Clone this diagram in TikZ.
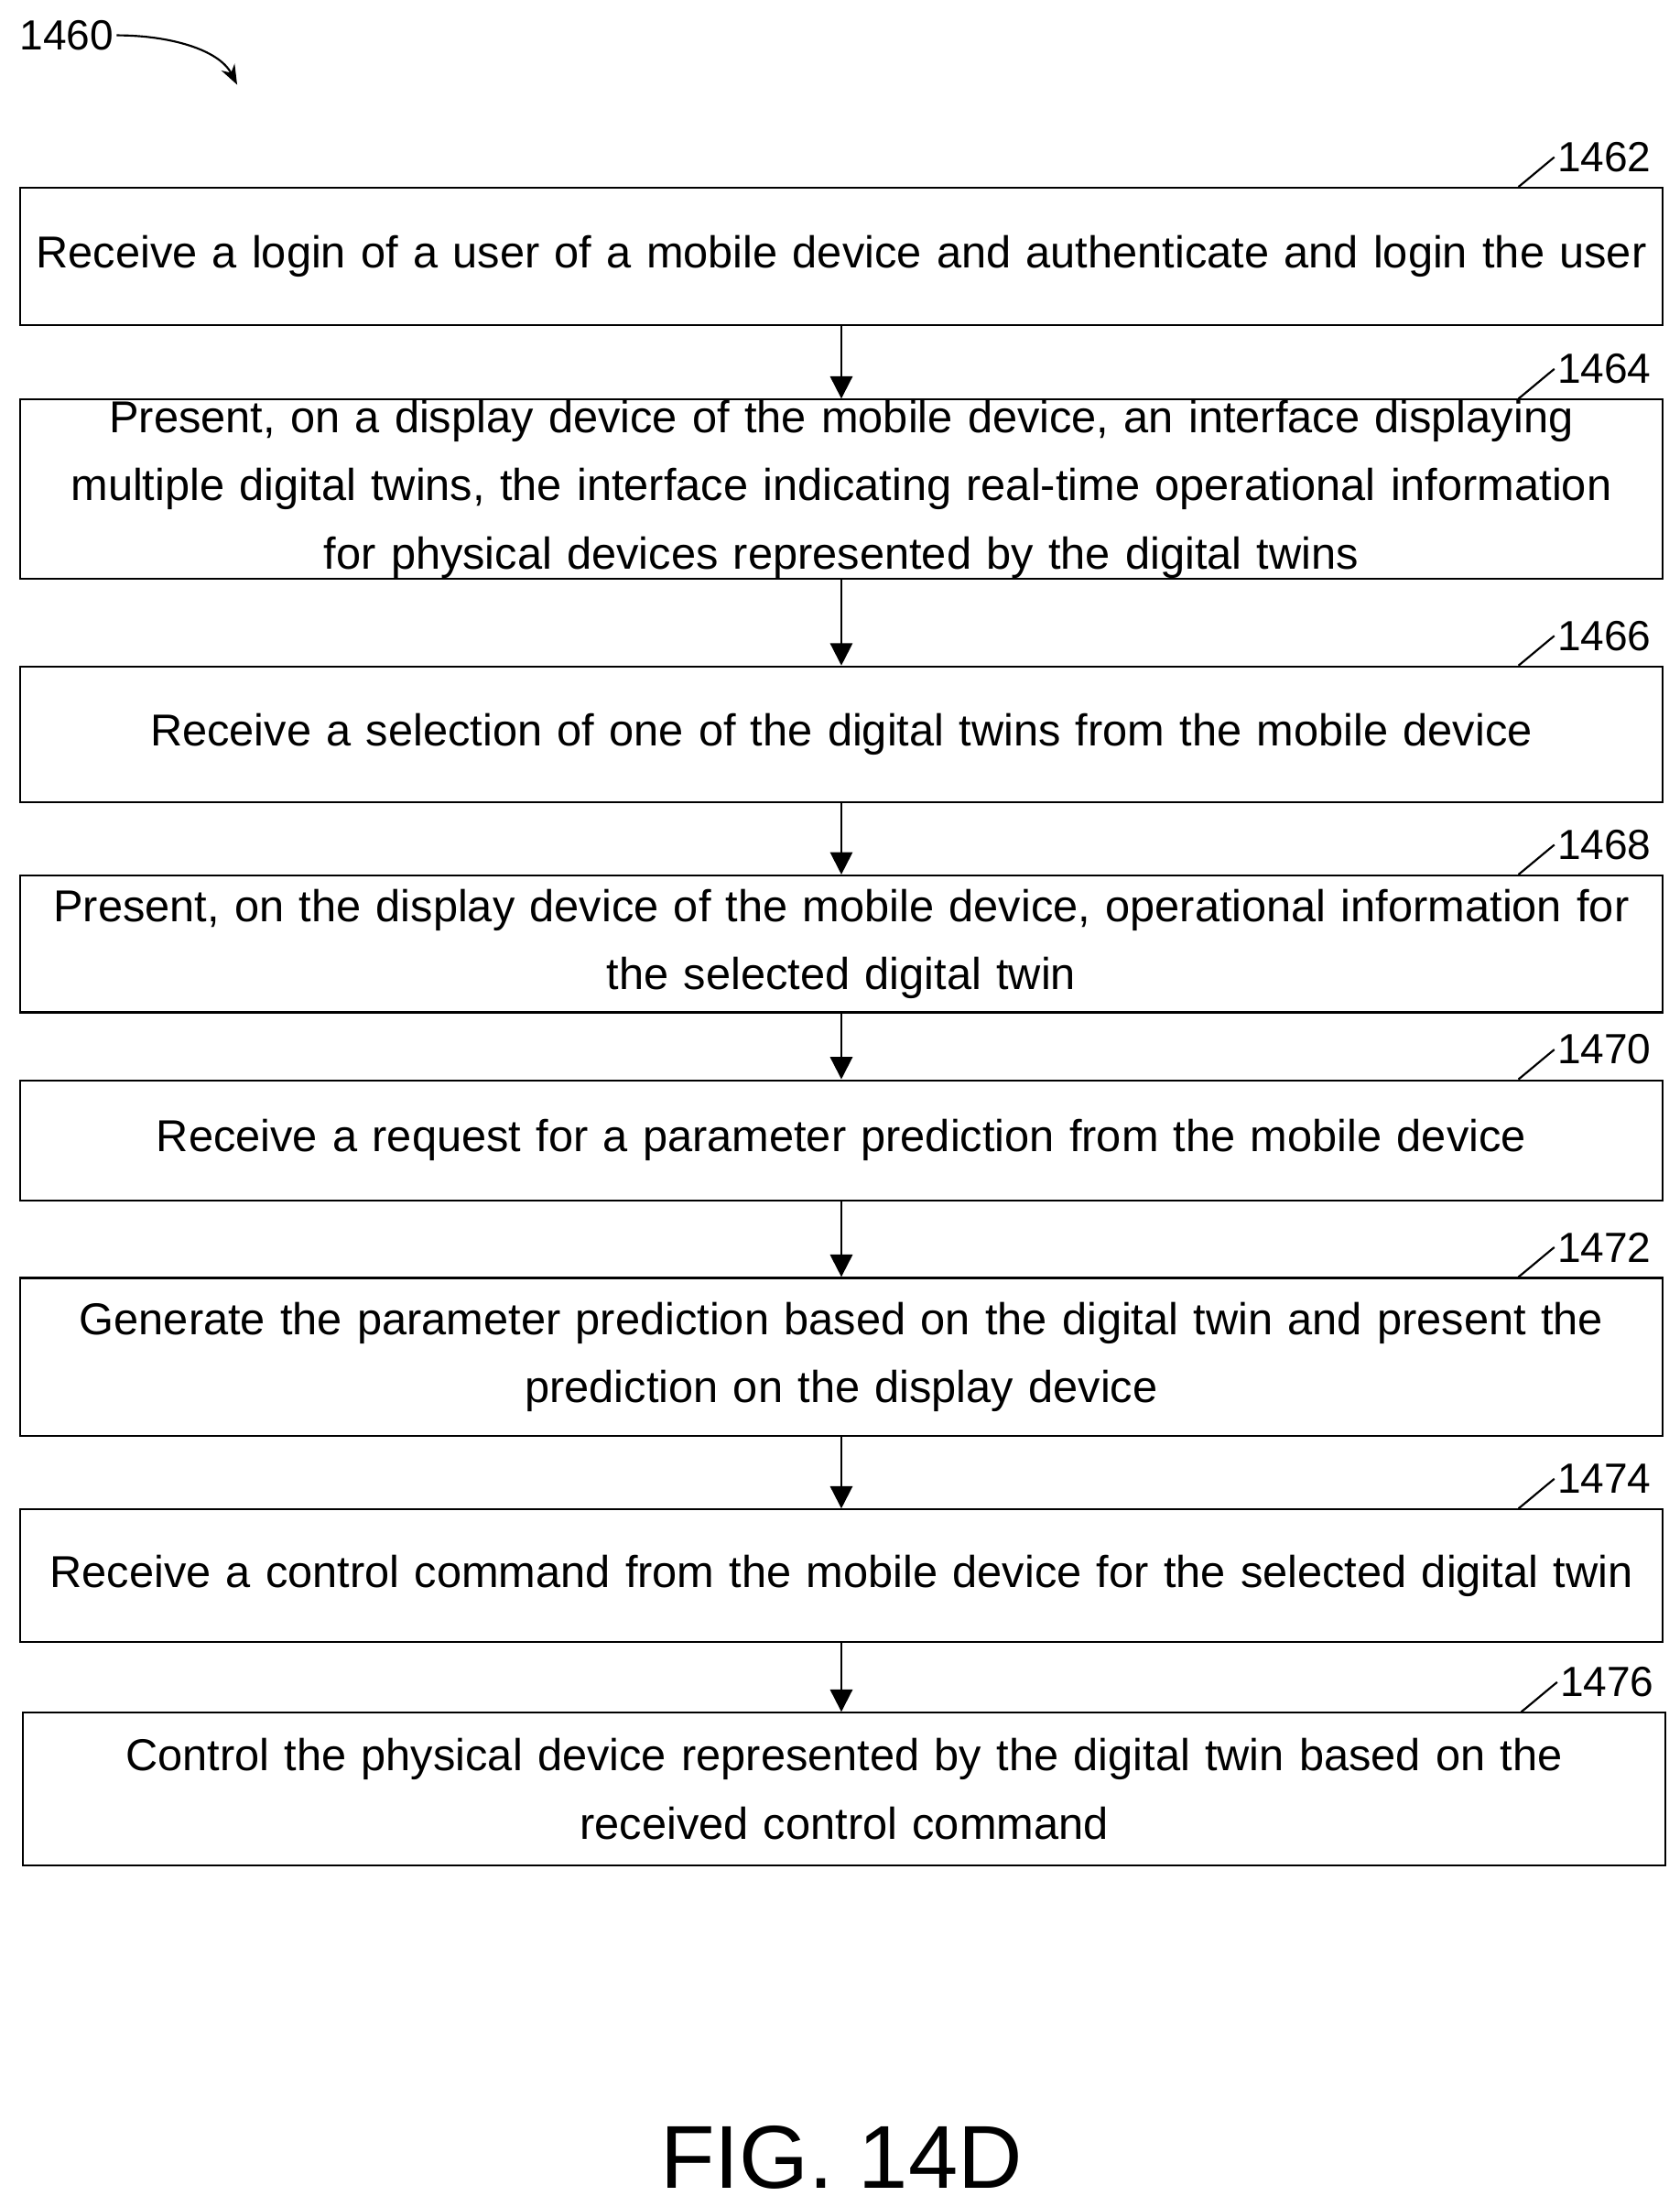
\documentclass[tikz,border=0pt]{standalone}
\usepackage{fontspec}
\setmainfont{Liberation Sans}
\usetikzlibrary{positioning,arrows.meta}
\tikzset{
  stepbox/.style={draw, thick, minimum width=23.28cm, text width=23.0cm, align=center, font=\fontsize{18}{27.5}\selectfont, inner sep=0pt},
  flow/.style={-{Triangle[length=9pt,width=9pt]}, thick},
  tag/.style={anchor=west, font=\fontsize{17}{19}\selectfont, inner sep=1pt}
}
\newcommand{\tagbox}[2]{%
  \node[tag] (t#1) at ([xshift=-1.55cm,yshift=0.42cm]#2.north east) {#1};
  \draw[thick] ([xshift=-2.06cm]#2.north east) .. controls +(0,0.3) and +(-0.3,-0.02) .. (t#1.west);
}
\begin{document}
\begin{tikzpicture}[x=0.02cm,y=-0.02cm]
    \useasboundingbox (0,0) rectangle (1190,1563);
    %Title
    \node[tag] (fig) at (12,25) {1460};
    \draw[-{Stealth[length=8pt]}, thick] (fig.east) .. controls (120,25) and (155,35) .. (168,60);
    %Steps
    \node[stepbox, minimum height=1.94cm] (s1462) at (596,181.5) {Receive a login of a user of a mobile device and authenticate and login the user};
    \node[stepbox, minimum height=2.54cm] (s1464) at (596,346.5) {Present, on a display device of the mobile device, an interface displaying\\ multiple digital twins, the interface indicating real-time operational information\\ for physical devices represented by the digital twins};
    \node[stepbox, minimum height=1.92cm] (s1466) at (596,520) {Receive a selection of one of the digital twins from the mobile device};
    \node[stepbox, minimum height=1.94cm] (s1468) at (596,668.5) {Present, on the display device of the mobile device, operational information for\\ the selected digital twin};
    \node[stepbox, minimum height=1.70cm] (s1470) at (596,807.5) {Receive a request for a parameter prediction from the mobile device};
    \node[stepbox, minimum height=2.24cm] (s1472) at (596,961) {Generate the parameter prediction based on the digital twin and present the\\ prediction on the display device};
    \node[stepbox, minimum height=1.88cm] (s1474) at (596,1116) {Receive a control command from the mobile device for the selected digital twin};
    \node[stepbox, minimum height=2.16cm] (s1476) at (598,1267) {Control the physical device represented by the digital twin based on the\\ received control command};
    %Tags
    \tagbox{1462}{s1462}
    \tagbox{1464}{s1464}
    \tagbox{1466}{s1466}
    \tagbox{1468}{s1468}
    \tagbox{1470}{s1470}
    \tagbox{1472}{s1472}
    \tagbox{1474}{s1474}
    \tagbox{1476}{s1476}
    %Arrows
    \foreach \a/\b in {1462/1464,1464/1466,1466/1468,1468/1470,1470/1472,1472/1474,1474/1476}
      \draw[flow] (s\a.south -| 596,0) -- (s\b.north -| 596,0);
    \node[font=\fontsize{36}{40}\selectfont] (caption) at (596,1528) {FIG. 14D};
\end{tikzpicture}
\end{document}
